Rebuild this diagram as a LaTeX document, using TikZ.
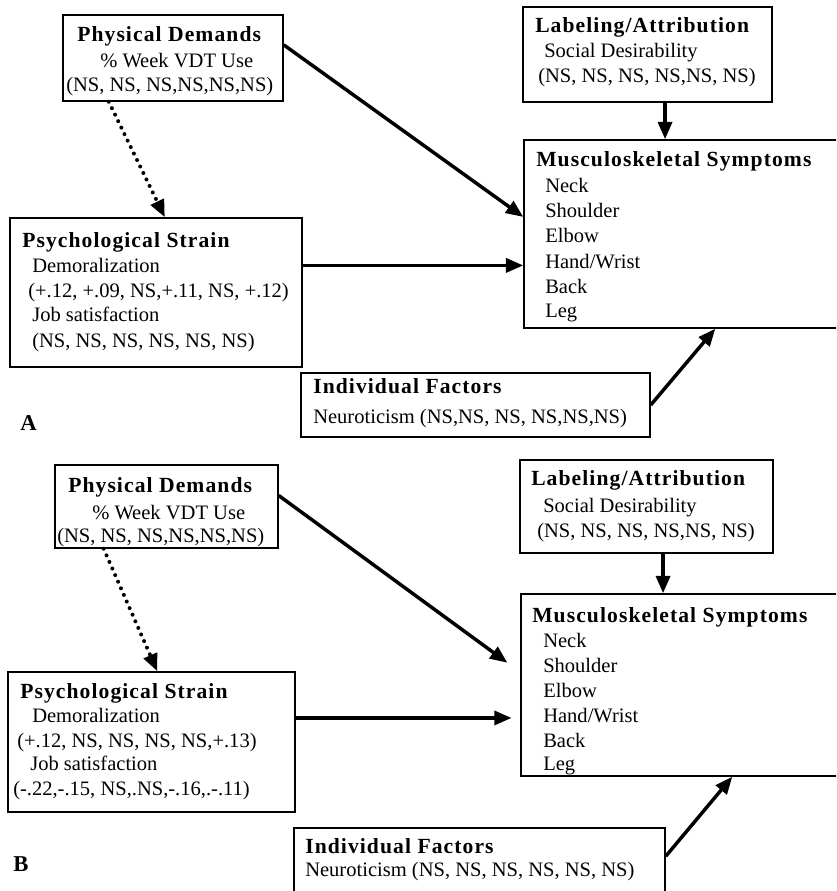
\documentclass[tikz,border=0pt]{standalone}
\usepackage{fontspec}
\setmainfont{Liberation Serif}
\newfontfamily\hdfont[LetterSpace=5]{Liberation Serif}
\usetikzlibrary{arrows.meta,calc,fit}
\begin{document}
\begin{tikzpicture}[x=0.75pt,y=-0.75pt,
  box/.style={draw, line width=1.1pt, inner sep=0pt},
  hd/.style={anchor=base west, inner sep=0pt, font=\hdfont\bfseries\fontsize{16.2}{18}\selectfont},
  tx/.style={anchor=base west, inner sep=0pt, font=\fontsize{15.4}{18}\selectfont},
  arr/.style={line width=2.6pt, -{Triangle[length=13pt,width=10.5pt]}},
  dotarr/.style={line width=3pt, line cap=round, dash pattern=on 0pt off 5.4pt, -{Triangle[length=13pt,width=10.5pt]}},
  panel/.style={anchor=base west, inner sep=0pt, font=\bfseries\fontsize{17}{18}\selectfont}]
\useasboundingbox (0,0) rectangle (836,891);
\clip (0,0) rectangle (836,891);
\fill[white] (0,0) rectangle (836,891);

% ================= Panel A =================
\node[box, fit={(63,15) (283,101)}] (pdA) {};
\node[hd] (pdA1) at (77,42) {Physical Demands};
\node[tx] (pdA2) at (100,68) {\% Week VDT Use};
\node[tx] (pdA3) at (66,92) {(NS, NS, NS,NS,NS,NS)};

\node[box, fit={(523,7) (772,102)}] (labA) {};
\node[hd] (labA1) at (535,33) {Labeling/Attribution};
\node[tx] (labA2) at (544,58) {Social Desirability};
\node[tx] (labA3) at (538,83) {(NS, NS, NS, NS,NS, NS)};

\node[box, fit={(524,140) (850,328)}] (msA) {};
\node[hd] (msA1) at (536,167) {Musculoskeletal Symptoms};
\node[tx] (msA2) at (545,193) {Neck};
\node[tx] (msA3) at (545,218) {Shoulder};
\node[tx] (msA4) at (545,243) {Elbow};
\node[tx] (msA5) at (545,268) {Hand/Wrist};
\node[tx] (msA6) at (545,293) {Back};
\node[tx] (msA7) at (545,317) {Leg};

\node[box, fit={(10,218) (302,367)}] (psA) {};
\node[hd] (psA1) at (22,247) {Psychological Strain};
\node[tx] (psA2) at (32,272) {Demoralization};
\node[tx] (psA3) at (28,297) {(+.12, +.09, NS,+.11, NS, +.12)};
\node[tx] (psA4) at (32,321) {Job satisfaction};
\node[tx] (psA5) at (32,347) {(NS, NS, NS, NS, NS, NS)};

\node[box, fit={(301,373) (650,437)}] (ifA) {};
\node[hd] (ifA1) at (313,393) {Individual Factors};
\node[tx] (ifA2) at (313,423) {Neuroticism (NS,NS, NS, NS,NS,NS)};

\node[panel] (lblA) at (20,430) {A};

\draw[arr] ($(pdA.north east)!0.35!(pdA.south east)$) -- ($(msA.north west)!0.41!(msA.south west)$);
\draw[dotarr] ($(pdA.south west)!0.21!(pdA.south east)$) -- ($(psA.north west)!0.53!(psA.north east)$);
\draw[arr] ($(psA.north east)!0.32!(psA.south east)$) coordinate (hA) -- (hA -| msA.west);
\draw[arr] ($(labA.south west)!0.57!(labA.south east)$) coordinate (vA) -- (vA |- msA.north);
\draw[arr] (ifA.east) -- ($(msA.south west)+(192,0)$);

% ================= Panel B =================
\node[box, fit={(55,465) (278,548)}] (pdB) {};
\node[hd] (pdB1) at (68,492) {Physical Demands};
\node[tx] (pdB2) at (92,519) {\% Week VDT Use};
\node[tx] (pdB3) at (57,542) {(NS, NS, NS,NS,NS,NS)};

\node[box, fit={(520,460) (773,553)}] (labB) {};
\node[hd] (labB1) at (531,485) {Labeling/Attribution};
\node[tx] (labB2) at (543,512) {Social Desirability};
\node[tx] (labB3) at (537,537) {(NS, NS, NS, NS,NS, NS)};

\node[box, fit={(521,594) (850,776)}] (msB) {};
\node[hd] (msB1) at (532,622) {Musculoskeletal Symptoms};
\node[tx] (msB2) at (543,647) {Neck};
\node[tx] (msB3) at (543,672) {Shoulder};
\node[tx] (msB4) at (543,697) {Elbow};
\node[tx] (msB5) at (543,722) {Hand/Wrist};
\node[tx] (msB6) at (543,747) {Back};
\node[tx] (msB7) at (543,770) {Leg};

\node[box, fit={(8,672) (295,812)}] (psB) {};
\node[hd] (psB1) at (20,698) {Psychological Strain};
\node[tx] (psB2) at (32,722) {Demoralization};
\node[tx] (psB3) at (17,747) {(+.12, NS, NS, NS, NS,+.13)};
\node[tx] (psB4) at (30,770) {Job satisfaction};
\node[tx] (psB5) at (13,795) {(-.22,-.15, NS,.NS,-.16,.-.11)};

\node[box, fit={(294,828) (665,905)}] (ifB) {};
\node[hd] (ifB1) at (305,853) {Individual Factors};
\node[tx] (ifB2) at (305,876) {Neuroticism (NS, NS, NS, NS, NS, NS)};

\node[panel] (lblB) at (13,871) {B};

\draw[arr, shorten >=12pt] ($(pdB.north east)!0.37!(pdB.south east)$) -- ($(msB.north west)!0.43!(msB.south west)$);
\draw[dotarr] ($(pdB.south west)!0.22!(pdB.south east)$) -- ($(psB.north west)!0.52!(psB.north east)$);
\draw[arr, shorten >=6.5pt] ($(psB.north east)!0.33!(psB.south east)$) coordinate (hB) -- (hB -| msB.west);
\draw[arr] ($(labB.south west)!0.565!(labB.south east)$) coordinate (vB) -- (vB |- msB.north);
\draw[arr] ($(ifB.north east)+(0,29)$) -- ($(msB.south west)+(212,0)$);
\end{tikzpicture}
\end{document}
